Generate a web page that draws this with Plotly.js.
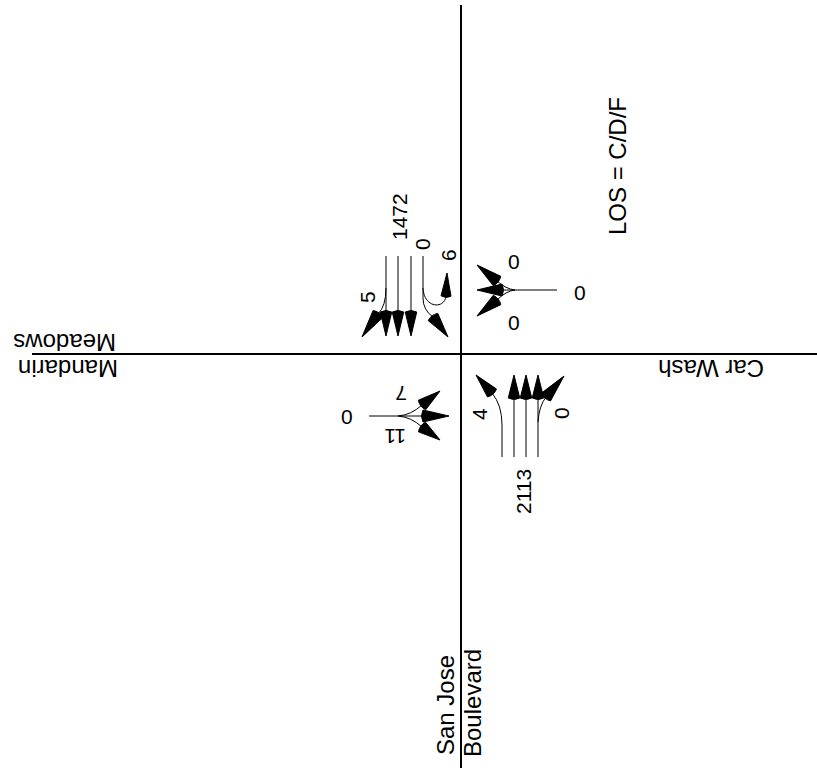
<!DOCTYPE html>
<html>
<head>
<meta charset="utf-8">
<script src="https://cdn.plot.ly/plotly-3.0.1.min.js"></script>
<style>html,body{margin:0;padding:0;background:#fff;}#chart{width:817px;height:772px;}</style>
</head>
<body>
<div id="chart"></div>
<script>
// ---- Data: turning-movement volumes ----
const sbMovements = ['U-turn', 'Left', 'Through', 'Right'];
const sbVolumes   = [6, 0, 1472, 5];
const wbMovements = ['Right', 'Through', 'Left'];
const wbVolumes   = [0, 0, 0];
const nbMovements = ['Left', 'Through', 'Right'];
const nbVolumes   = [4, 2113, 0];
const ebMovements = ['Left', 'Through', 'Right'];
const ebVolumes   = [7, 0, 11];
const streetNames = ['Mandarin', 'Meadows', 'Car Wash', 'San Jose', 'Boulevard'];
const losLabel    = 'LOS = C/D/F';

// ---- Drawing helpers ----
const shapes = [];
const annotations = [];
const FONT = 'Liberation Sans, Arial, sans-serif';
const NUM = 21, WORD = 24;

function line(path, w) {
  shapes.push({type: 'path', xref: 'x', yref: 'y', path: path,
    line: {color: '#000', width: w || 1}});
}
function head(bx, by, tx, ty, W) {
  W = W || 11;
  const dx = tx - bx, dy = ty - by, L = Math.hypot(dx, dy);
  const ux = dx / L, uy = dy / L, nx = -uy, ny = ux;
  const c1x = bx + nx * W / 2, c1y = by + ny * W / 2;
  const c2x = bx - nx * W / 2, c2y = by - ny * W / 2;
  const qx = bx - ux * 3, qy = by - uy * 3;
  shapes.push({type: 'path', xref: 'x', yref: 'y',
    path: `M${tx},${ty} L${c1x},${c1y} Q${qx},${qy} ${c2x},${c2y} Z`,
    fillcolor: '#000', line: {color: '#000', width: 1}});
}
function label(text, x, y, angle, size, boxH) {
  const a = {text: String(text), x: x, y: y, xref: 'x', yref: 'y',
    showarrow: false, textangle: angle || 0, xanchor: 'center', yanchor: 'middle',
    font: {family: FONT, size: size || NUM, color: '#000'}};
  if (boxH) { a.height = boxH; a.borderpad = 0; }
  annotations.push(a);
}

// ---- Road centre lines ----
line('M461,5 L461,768', 2);
line('M32,354 L817,354', 2);

// ---- Southbound approach ----
[386, 398, 411].forEach(x => { line(`M${x},256 L${x},312`); head(x, 312, x, 336, 11.5); });
line('M423,256 L423,298 Q423,310 433,317');
head(433, 317, 448, 337, 12);
line('M386,288 Q386,306 378,314');
head(378, 314, 362, 337, 12);
line('M423,288 C424,309 445,309 446,296');
head(446, 296, 447, 273, 10);
label(sbVolumes[0], 448, 255, -90);
label(sbVolumes[1], 422, 244, -90);
label(sbVolumes[2], 399, 217, -90);
label(sbVolumes[3], 367, 297, -90);

// ---- Westbound approach ----
line('M557,290 L502,290');
line('M515,290 Q506,289 497,281');
line('M515,290 Q506,291 497,300');
head(497, 281, 477, 265, 12);
head(502, 290, 477, 290, 12);
head(497, 300, 477, 316, 12);
label(wbVolumes[0], 514, 261, 0);
label(wbVolumes[1], 580, 292, 0);
label(wbVolumes[2], 514, 322, 0);

// ---- Northbound approach ----
[514, 526, 538].forEach(x => { line(`M${x},457 L${x},398`); head(x, 398, x, 375, 11.5); });
line('M502,457 L502,425 Q502,405 492,393');
head(492, 393, 476, 375, 12);
line('M538,422 Q539,406 546,397');
head(546, 397, 564, 376, 12);
label(nbVolumes[0], 479, 414, -90);
label(nbVolumes[1], 523, 492, -90);
label(nbVolumes[2], 561, 413, -90);

// ---- Eastbound approach ----
line('M369,416 L423,416');
line('M398,416 Q411,415 422,405');
line('M398,416 Q411,417 422,427');
head(422, 405, 440, 391, 12);
head(423, 416, 449, 416, 12);
head(422, 427, 440, 440, 12);
label(ebVolumes[0], 401, 394, 180);
label(ebVolumes[1], 347, 416, 0);
label(ebVolumes[2], 395, 437, 180);

// ---- Street names and LOS ----
label(streetNames[0], 68, 369, 180, WORD, 23);
label(streetNames[1], 65, 343, 180, WORD, 23);
label(streetNames[2], 711, 369, 180, WORD);
label(streetNames[3], 445, 705, -90, WORD);
label(streetNames[4], 472, 703, -90, WORD);
label(losLabel, 617, 166, -90, WORD);

const data = [{x: [0], y: [0], mode: 'markers', marker: {opacity: 0}, hoverinfo: 'skip', showlegend: false}];
const layout = {
  width: 817, height: 772,
  margin: {l: 0, r: 0, t: 0, b: 0},
  paper_bgcolor: '#fff', plot_bgcolor: '#fff',
  xaxis: {range: [0, 817], visible: false, fixedrange: true},
  yaxis: {range: [772, 0], visible: false, fixedrange: true},
  showlegend: false,
  shapes: shapes,
  annotations: annotations
};
Plotly.newPlot('chart', data, layout, {staticPlot: true});
</script>
</body>
</html>
